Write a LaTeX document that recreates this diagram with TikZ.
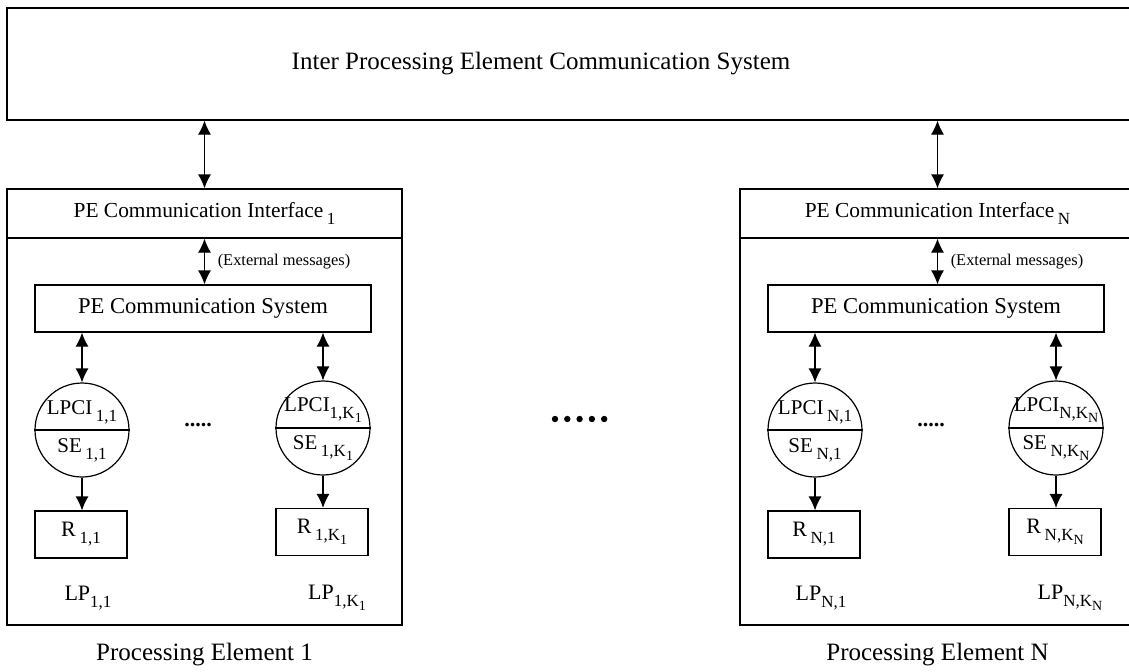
\documentclass[tikz,border=0pt]{standalone}
\usepackage{fontspec}
\setmainfont{Liberation Serif}
\usetikzlibrary{arrows.meta,positioning}
% lowered indices as in the drawing
\newcommand{\lowidx}[1]{\raisebox{-0.7ex}{\fontsize{8.5}{9}\selectfont #1}}
\newcommand{\lowK}[1]{K\raisebox{-0.45ex}{\fontsize{7}{7}\selectfont #1}}

\begin{document}
\begin{tikzpicture}[x=0.5pt,y=-0.5pt,
  box/.style={draw,line width=0.6pt,inner sep=2pt},
  proc/.style={draw,line width=0.6pt,circle,minimum size=47pt,inner sep=0pt},
  res/.style={box,minimum width=46pt,minimum height=23.5pt,font=\fontsize{11}{12}\selectfont},
  tip/.style={-{Latex[length=7pt,width=6.5pt]},line width=0.6pt},
  both/.style={{Latex[length=7pt,width=6.5pt]}-{Latex[length=7pt,width=6.5pt]},line width=0.6pt},
  lbl/.style={font=\fontsize{11}{12}\selectfont,inner sep=0pt},
  part/.style={font=\fontsize{10.5}{12}\selectfont,inner sep=0pt},
  head/.style={font=\fontsize{12.5}{15}\selectfont}]
  \useasboundingbox (0,0) rectangle (1129,671);
  % inter PE system
  \node[box,minimum width=564pt,minimum height=56pt] (ipecs) at (571,64) {};
  \node[head] (ipecstext) at (541,64) {Inter Processing Element Communication System};
  % processing elements
  \foreach \sx/\p in {0/1,733/N} {
  \begin{scope}[xshift=\sx*0.5pt]
    \node[box,minimum width=197.5pt,minimum height=218pt] (pe\p) at (204.5,407) {};
    \node[box,minimum width=197.5pt,minimum height=24.5pt,anchor=north,
      font=\fontsize{10.7}{12}\selectfont] (if\p) at (pe\p.north) {PE Communication Interface\,\lowidx{\p}};
    \node[box,minimum width=168pt,minimum height=23.5pt,
      font=\fontsize{11.3}{13}\selectfont] (sys\p) at (203,308.5) {PE Communication System};
    % split circles
    \node[proc] (ca\p) at (82,430) {};
    \node[proc] (cb\p) at (323,428) {};
    \draw[line width=0.6pt] (ca\p.west) -- (ca\p.east);
    \draw[line width=0.6pt] (cb\p.west) -- (cb\p.east);
    \node[part] (lpcia\p) at ([yshift=9pt]ca\p.center) {LPCI\,\lowidx{\p,1}};
    \node[part] (sea\p) at ([yshift=-10pt]ca\p.center) {SE\,\lowidx{\p,1}};
    \node[part] (lpcib\p) at ([yshift=9pt]cb\p.center) {LPCI\lowidx{\p,\lowK{\p}}};
    \node[part] (seb\p) at ([yshift=-10pt]cb\p.center) {SE\,\lowidx{\p,\lowK{\p}}};
    \node[res] (ra\p) at (81,534.5) {R\,\lowidx{\p,1}};
    \node[res] (rb\p) at (322,532) {R\,\lowidx{\p,\lowK{\p}}};
    \node[lbl] (lpa\p) at (88,598) {LP\lowidx{\p,1}};
    \node[lbl] (lpb\p) at (337,598) {LP\lowidx{\p,\lowK{\p}}};
    \node[lbl] (dots\p) at (198,425) {\textbf{.....}};
    \node[head] (name\p) at (204.5,655) {Processing Element \p};
    \draw[both] (ipecs.south -| if\p.north) -- (if\p.north);
    \draw[both] (if\p.south) -- (if\p.south |- sys\p.north)
      node[midway,right=3pt,font=\fontsize{8.2}{10}\selectfont] {(External messages)};
    \draw[both] (sys\p.south -| ca\p.north) -- (ca\p.north);
    \draw[both] (sys\p.south -| cb\p.north) -- (cb\p.north);
    \draw[tip] (ca\p.south) -- (ca\p.south |- ra\p.north);
    \draw[tip] (cb\p.south) -- (cb\p.south |- rb\p.north);
  \end{scope}
  }
  % dots between the elements
  \foreach \i in {0,...,4}
    \fill (555+\i*12.3,419) circle (1.6pt);
\end{tikzpicture}
\end{document}
